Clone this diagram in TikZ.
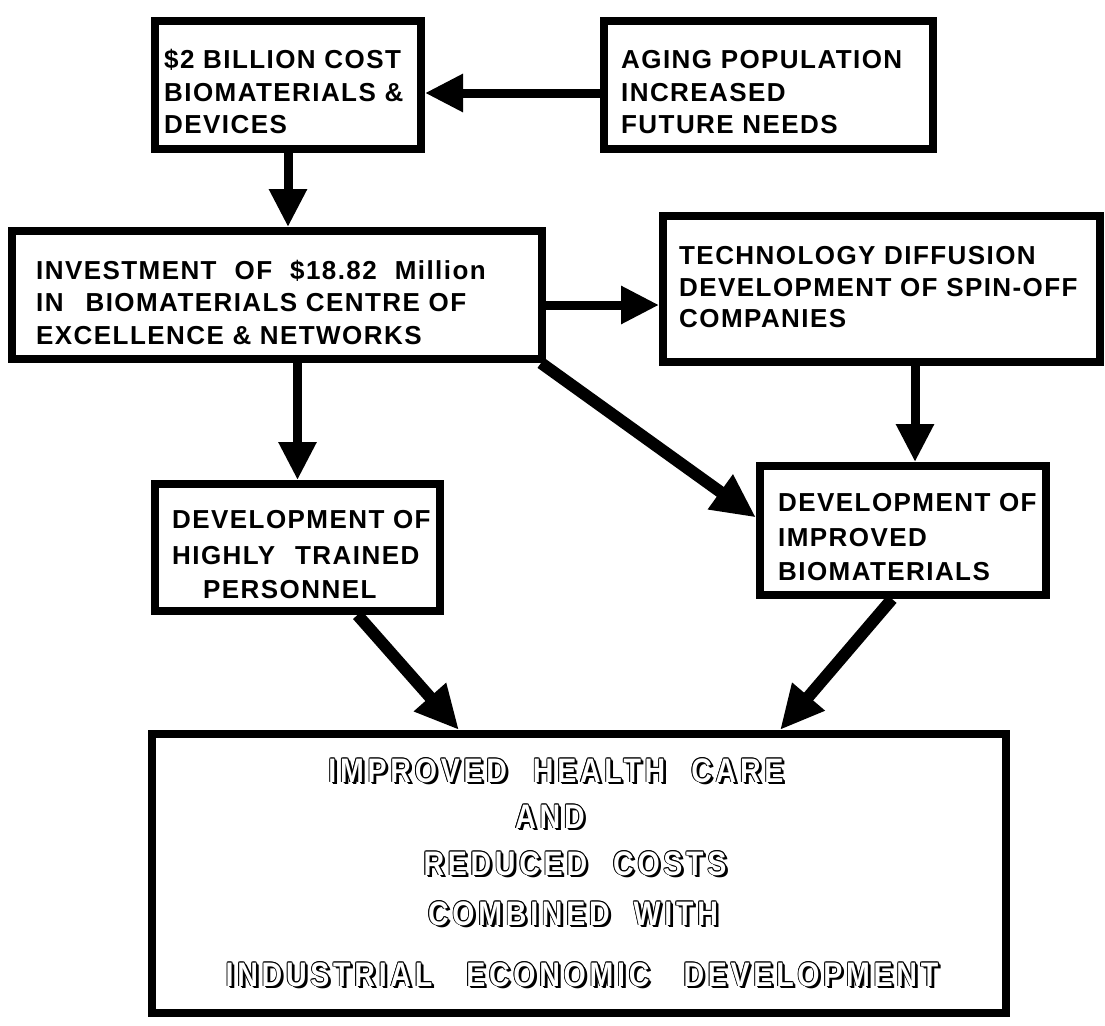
\documentclass[tikz,border=0pt]{standalone}
\usepackage{fontspec}
\setmainfont{Liberation Sans}[LetterSpace=5.5]
\newfontfamily\bigfont{Liberation Sans}[FakeStretch=0.84,LetterSpace=11]
\usetikzlibrary{arrows.meta}
\newcommand\shcopy[3]{\makebox[0pt][l]{\hspace*{#1pt}\raisebox{#2pt}{#3}}}
\newcommand\shadowed[1]{%
\shcopy{0.9}{0}{#1}\shcopy{-0.9}{0}{#1}\shcopy{0}{0.9}{#1}\shcopy{0}{-0.9}{#1}%
\shcopy{0.65}{0.65}{#1}\shcopy{0.65}{-0.65}{#1}\shcopy{-0.65}{0.65}{#1}\shcopy{-0.65}{-0.65}{#1}%
\shcopy{1.8}{-1.8}{#1}\shcopy{2.7}{-2.7}{#1}%
\textcolor{white}{#1}}
\begin{document}
\begin{tikzpicture}[x=1pt,y=-1pt,
  box/.style={draw, line width=8pt, inner sep=0pt, rectangle},
  txt/.style={anchor=base west, inner sep=0pt, font=\fontsize{26}{30}\selectfont\bfseries},
  arr/.style={line width=9pt, -{Triangle[width=36pt,length=38pt]}},
  darr/.style={line width=12pt, -{Triangle[width=40pt,length=44pt]}},
  btxt/.style={anchor=base, inner sep=0pt, font=\bigfont\fontsize{34}{38}\selectfont\bfseries}]
\fill[white, use as bounding box] (0,0) rectangle (1105,1025);

% boxes
\node[box, minimum width=266pt, minimum height=128pt] (b1) at (288,85) {};
\node[box, minimum width=329pt, minimum height=128pt] (b2) at (768.5,85) {};
\node[box, minimum width=530pt, minimum height=128pt] (b3) at (277,295) {};
\node[box, minimum width=437pt, minimum height=146pt] (b4) at (881.5,289) {};
\node[box, minimum width=285pt, minimum height=127pt] (b5) at (297.5,547.5) {};
\node[box, minimum width=286pt, minimum height=129pt] (b6) at (903,530.5) {};
\node[box, minimum width=854pt, minimum height=279pt] (b7) at (579,873.5) {};

% texts
\node[txt] (t1a) at (164,69) {\$2 BILLION COST};
\node[txt] (t1b) at (164,101) {BIOMATERIALS \&};
\node[txt] (t1c) at (164,133) {DEVICES};
\node[txt] (t2a) at (621,69) {AGING POPULATION};
\node[txt] (t2b) at (621,101) {INCREASED};
\node[txt] (t2c) at (621,133) {FUTURE NEEDS};
\node[txt] (t3a) at (36,279) {INVESTMENT\hspace{18pt}OF\hspace{18pt}\$18.82\hspace{18pt}Million};
\node[txt] (t3b) at (36,311) {IN\hspace{22pt}BIOMATERIALS CENTRE OF};
\node[txt] (t3c) at (36,344) {EXCELLENCE \& NETWORKS};
\node[txt] (t4a) at (679,264) {TECHNOLOGY DIFFUSION};
\node[txt] (t4b) at (679,296) {DEVELOPMENT OF SPIN-OFF};
\node[txt] (t4c) at (679,327) {COMPANIES};
\node[txt] (t5a) at (172,528) {DEVELOPMENT OF};
\node[txt] (t5b) at (172,564) {HIGHLY\hspace{20pt}TRAINED};
\node[txt] (t5c) at (203,598) {PERSONNEL};
\node[txt] (t6a) at (778,511) {DEVELOPMENT OF};
\node[txt] (t6b) at (778,546) {IMPROVED};
\node[txt] (t6c) at (778,580) {BIOMATERIALS};

\node[btxt] (t7a) at (556,782) {\shadowed{IMPROVED\hspace{26pt}HEALTH\hspace{26pt}CARE}};
\node[btxt] (t7b) at (550,828) {\shadowed{AND}};
\node[btxt] (t7c) at (575,875) {\shadowed{REDUCED\hspace{26pt}COSTS}};
\node[btxt] (t7d) at (573,925) {\shadowed{COMBINED\hspace{24pt}WITH}};
\node[btxt] (t7e) at (582,986) {\shadowed{INDUSTRIAL\hspace{34pt}ECONOMIC\hspace{34pt}DEVELOPMENT}};

% connectors
\draw[arr] ([yshift=-8pt]b2.west) -- ([yshift=-8pt]b1.east);
\draw[arr] (b1.south) -- (b1.south |- b3.north);
\draw[arr] ([yshift=-10pt]b3.east) -- ([yshift=-10pt]b3.east -| b4.west);
\draw[arr] (b5.north |- b3.south) -- (b5.north);
\draw[arr] ([xshift=12pt]b6.north |- b4.south) -- ([xshift=12pt]b6.north);
\draw[darr] ([xshift=-5pt]b3.south east) -- ([yshift=13pt]b6.west);
\draw[darr] ([xshift=60pt]b5.south) -- ([xshift=-120pt]b7.north);
\draw[darr] ([xshift=-11pt]b6.south) -- ([xshift=201pt]b7.north);
\end{tikzpicture}
\end{document}
